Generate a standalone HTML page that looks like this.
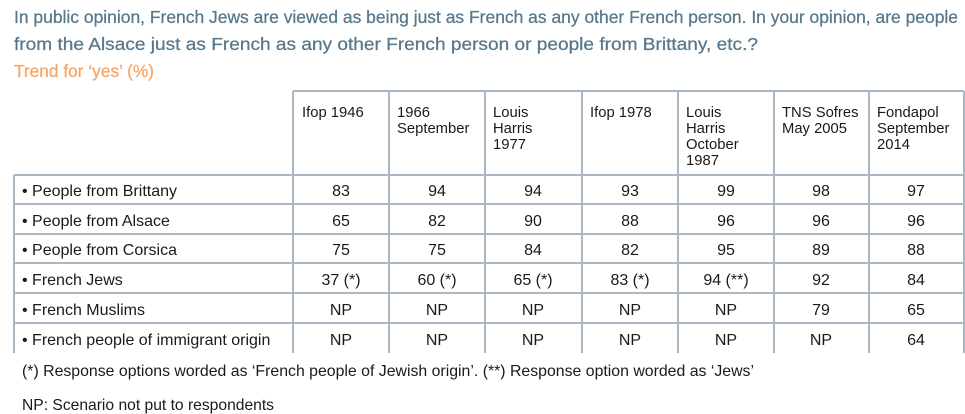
<!DOCTYPE html>
<html><head><meta charset="utf-8"><style>
html,body{margin:0;padding:0;background:#fff;width:965px;height:414px;overflow:hidden}
svg{display:block}
text{font-family:"Liberation Sans",sans-serif;}
.t{fill:#56778c;font-size:17.5px;stroke:#56778c;stroke-width:0.25}
.c{fill:#1a1a1a;font-size:14.8px}
.b{fill:#1a1a1a;font-size:16px}
.m{text-anchor:middle}
</style></head><body>
<svg width="965" height="414" viewBox="0 0 965 414">
<text class="t" x="14" y="23" textLength="944" lengthAdjust="spacingAndGlyphs">In public opinion, French Jews are viewed as being just as French as any other French person. In your opinion, are people</text>
<text class="t" x="14" y="50" textLength="744" lengthAdjust="spacingAndGlyphs">from the Alsace just as French as any other French person or people from Brittany, etc.?</text>
<text x="14" y="77" style="fill:#f8a463;font-size:17.5px;stroke:#f8a463;stroke-width:0.25" textLength="140" lengthAdjust="spacingAndGlyphs">Trend for ‘yes’ (%)</text>
<g stroke="#a9b8c4" stroke-width="2" fill="none">
<line x1="293" y1="91" x2="964" y2="91"/>
<line x1="14" y1="175" x2="964" y2="175"/>
<line x1="14" y1="204" x2="964" y2="204"/>
<line x1="14" y1="234" x2="964" y2="234"/>
<line x1="14" y1="263" x2="964" y2="263"/>
<line x1="14" y1="293" x2="964" y2="293"/>
<line x1="14" y1="323" x2="964" y2="323"/>
<line x1="14" y1="175" x2="14" y2="353"/>
<line x1="293" y1="91" x2="293" y2="353"/>
<line x1="389" y1="91" x2="389" y2="353"/>
<line x1="485" y1="91" x2="485" y2="353"/>
<line x1="582" y1="91" x2="582" y2="353"/>
<line x1="678" y1="91" x2="678" y2="353"/>
<line x1="774" y1="91" x2="774" y2="353"/>
<line x1="869" y1="91" x2="869" y2="353"/>
<line x1="964" y1="91" x2="964" y2="353"/>
</g>
<g class="c">
<text x="302" y="117">Ifop 1946</text>
<text x="397" y="117">1966</text><text x="397" y="133">September</text>
<text x="493" y="117">Louis</text><text x="493" y="133">Harris</text><text x="493" y="149">1977</text>
<text x="590" y="117">Ifop 1978</text>
<text x="686" y="117">Louis</text><text x="686" y="133">Harris</text><text x="686" y="149">October</text><text x="686" y="165">1987</text>
<text x="782" y="117">TNS Sofres</text><text x="782" y="133">May 2005</text>
<text x="877" y="117">Fondapol</text><text x="877" y="133">September</text><text x="877" y="149">2014</text>
</g>
<g class="b">
<text x="22" y="196">• People from Brittany</text>
<text x="22" y="226">• People from Alsace</text>
<text x="22" y="255">• People from Corsica</text>
<text x="22" y="285">• French Jews</text>
<text x="22" y="315">• French Muslims</text>
<text x="22" y="345">• French people of immigrant origin</text>
</g>
<g class="b m">
<text x="341" y="196">83</text><text x="437" y="196">94</text><text x="533" y="196">94</text><text x="630" y="196">93</text><text x="726" y="196">99</text><text x="821" y="196">98</text><text x="916" y="196">97</text>
<text x="341" y="226">65</text><text x="437" y="226">82</text><text x="533" y="226">90</text><text x="630" y="226">88</text><text x="726" y="226">96</text><text x="821" y="226">96</text><text x="916" y="226">96</text>
<text x="341" y="255">75</text><text x="437" y="255">75</text><text x="533" y="255">84</text><text x="630" y="255">82</text><text x="726" y="255">95</text><text x="821" y="255">89</text><text x="916" y="255">88</text>
<text x="341" y="285">37 (*)</text><text x="437" y="285">60 (*)</text><text x="533" y="285">65 (*)</text><text x="630" y="285">83 (*)</text><text x="726" y="285">94 (**)</text><text x="821" y="285">92</text><text x="916" y="285">84</text>
<text x="341" y="315">NP</text><text x="437" y="315">NP</text><text x="533" y="315">NP</text><text x="630" y="315">NP</text><text x="726" y="315">NP</text><text x="821" y="315">79</text><text x="916" y="315">65</text>
<text x="341" y="345">NP</text><text x="437" y="345">NP</text><text x="533" y="345">NP</text><text x="630" y="345">NP</text><text x="726" y="345">NP</text><text x="821" y="345">NP</text><text x="916" y="345">64</text>
</g>
<text class="b" x="22" y="376" textLength="732" lengthAdjust="spacingAndGlyphs">(*) Response options worded as ‘French people of Jewish origin’. (**) Response option worded as ‘Jews’</text>
<text class="b" x="22" y="410" textLength="252" lengthAdjust="spacingAndGlyphs">NP: Scenario not put to respondents</text>
</svg>
</body></html>
